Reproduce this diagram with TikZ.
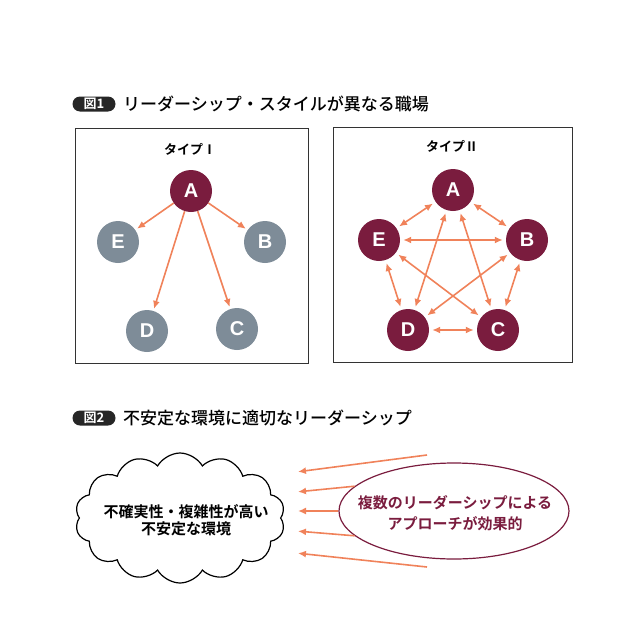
\documentclass[tikz,border=0pt]{standalone}
\usepackage{fontspec}
\setmainfont{Noto Sans CJK JP}[BoldFont=Noto Sans CJK JP Bold]
\newfontfamily\jpmid{Noto Sans CJK JP Medium}
\newfontfamily\lat{Liberation Sans}
\usetikzlibrary{shapes.symbols,shapes.geometric,arrows.meta}
\definecolor{maroon}{RGB}{122,28,62}
\definecolor{slate}{RGB}{126,140,152}
\definecolor{coral}{RGB}{240,130,90}

\begin{document}
\begin{tikzpicture}[x=1pt,y=-1pt,>={Latex[length=8pt,width=7pt]}]
\tikzstyle{Lead}=[circle, fill=maroon, minimum size=42pt, inner sep=0pt, text=white, font=\lat\bfseries\fontsize{20}{20}\selectfont];
\tikzstyle{Member}=[Lead, fill=slate];
\tikzstyle{seq} = [->, color=coral, line width=1.6pt, shorten >=2pt];
\tikzstyle{both} = [<->, color=coral, line width=1.6pt, shorten >=3pt, shorten <=3pt];
\tikzstyle{Badge}=[rounded corners=7.5pt, fill=black!85, text=white, minimum width=43pt, minimum height=15pt, inner sep=0pt, font=\bfseries\fontsize{13}{13}\selectfont];
\tikzstyle{Title}=[anchor=west, inner sep=0pt, font=\jpmid\fontsize{17}{17}\selectfont];
\tikzstyle{Kind}=[font=\bfseries\fontsize{13}{13}\selectfont];
\useasboundingbox (0,0) rectangle (632,637);
% figure 1
\node[Badge] (b1) at (94,104) {図1};
\node[Title] (t1) at (123,104) {リーダーシップ・スタイルが異なる職場};
\draw[line width=0.8pt, draw=black!80] (75,128) rectangle (308,363);
\draw[line width=0.8pt, draw=black!80] (333,127) rectangle (572,362);
\node[Kind] (k1) at (190,149) {タイプⅠ};
\node[Kind] (k2) at (452,146) {タイプⅡ};
% type I
\node[Lead] (vA) at (191,191) {A};
\node[Member] (vE) at (118,242) {E};
\node[Member] (vB) at (265,242) {B};
\node[Member] (vD) at (147,331) {D};
\node[Member] (vC) at (237,329) {C};
\draw [seq] (vA) -- (vE);
\draw [seq] (vA) -- (vB);
\draw [seq] (vA) -- (vD);
\draw [seq] (vA) -- (vC);
% type II
\node[Lead] (wA) at (453,190) {A};
\node[Lead] (wE) at (379,240) {E};
\node[Lead] (wB) at (527,240) {B};
\node[Lead] (wD) at (408,330) {D};
\node[Lead] (wC) at (498,330) {C};
\draw [both] (wA) -- (wE);
\draw [both] (wA) -- (wB);
\draw [both] (wA) -- (wD);
\draw [both] (wA) -- (wC);
\draw [both] (wE) -- (wB);
\draw [both] (wE) -- (wD);
\draw [both] (wE) -- (wC);
\draw [both] (wB) -- (wD);
\draw [both] (wB) -- (wC);
\draw [both] (wD) -- (wC);
% figure 2
\node[Badge] (b2) at (94,418) {図2};
\node[Title] (t2) at (123,418) {不安定な環境に適切なリーダーシップ};
\node[cloud, draw, cloud puffs=14, cloud puff arc=120, cloud ignores aspect, minimum width=210pt, minimum height=130pt, inner sep=0pt, line width=1.2pt] (cl) at (180,518) {};
\node[align=center, font=\bfseries\fontsize{15}{17}\selectfont] (ct) at (186,520) {不確実性・複雑性が高い\\不安定な環境};
\node[ellipse, draw=maroon, line width=1.2pt, minimum width=230pt, minimum height=96pt, inner sep=0pt] (ell) at (454,511) {};
\node[text=maroon, align=center, font=\bfseries\fontsize{15}{21}\selectfont] (et) at (455,513) {複数のリーダーシップによる\\アプローチが効果的};
\coordinate (s1) at (427,455);
\coordinate (s5) at (427,567);
\coordinate (e1) at (296,472);
\coordinate (e2) at (296,492);
\coordinate (e3) at (296,511);
\coordinate (e4) at (296,531);
\coordinate (e5) at (296,553);
\draw [seq] (s1) -- (e1);
\draw [seq] (ell.166) -- (e2);
\draw [seq] (ell.180) -- (e3);
\draw [seq] (ell.194) -- (e4);
\draw [seq] (s5) -- (e5);
\end{tikzpicture}
\end{document}
